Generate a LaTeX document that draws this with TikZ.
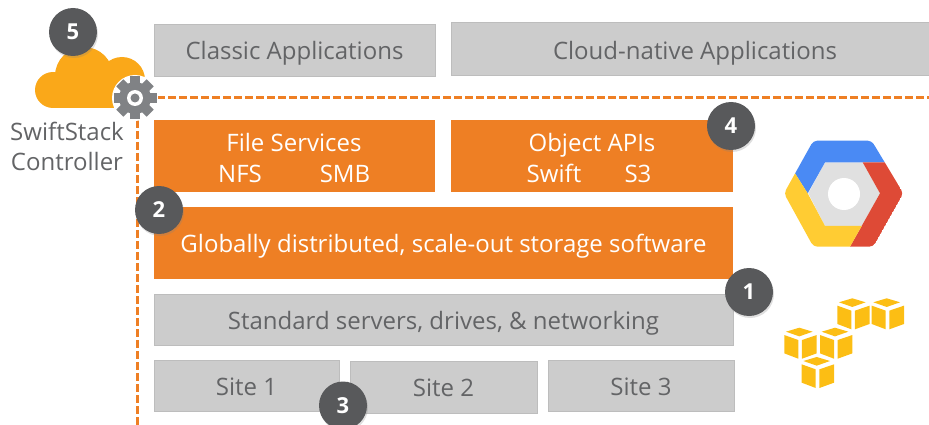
\documentclass[tikz,border=0pt]{standalone}
\usepackage{fontspec}
\setmainfont{Open Sans}
\usetikzlibrary{positioning,shadows}
\definecolor{boxgray}{HTML}{CCCCCC}
\definecolor{boxedge}{HTML}{BDBDBD}
\definecolor{txtgray}{HTML}{636466}
\definecolor{orng}{HTML}{EE7F24}
\definecolor{numgray}{HTML}{58595B}
\definecolor{cloudy}{HTML}{FAA819}
\definecolor{geargray}{HTML}{808285}
\definecolor{gblue}{HTML}{4A8AF4}
\definecolor{gred}{HTML}{DE4A36}
\definecolor{gyellow}{HTML}{FFCC33}
\definecolor{ggray}{HTML}{E0E0E0}
\definecolor{awsy}{HTML}{FCBE14}
\tikzset{
  txt/.style={inner sep=0pt,font=\fontsize{24}{28}\selectfont},
  graybox/.style={txt,rectangle,fill=boxgray,draw=boxedge,line width=.5pt,text=txtgray,anchor=center,text height=19pt,text depth=0pt},
  orangebox/.style={txt,rectangle,fill=orng,text=white,anchor=center,text height=19pt,text depth=0pt},
  onorange/.style={txt,text=white,text height=17pt,text depth=0pt},
  num/.style={circle,fill=numgray,text=white,minimum size=48pt,inner sep=0pt,
    font=\fontsize{22}{24}\selectfont\bfseries,
    drop shadow={shadow xshift=1pt,shadow yshift=-2pt,opacity=.25}},
  awscube/.pic={
    \fill[awsy] (-40,0) -- (0,-12) -- (40,0) -- (0,14) -- cycle;
    \fill[awsy] (-45,10) -- (-3,25) -- (-3,81) -- (-45,65) -- cycle;
    \fill[awsy] (52,10) -- (8,25) -- (8,81) -- (52,65) -- cycle;
  }
}
\begin{document}
\begin{tikzpicture}[x=1pt,y=-1pt]
  \useasboundingbox (0,0) rectangle (929,425);

  \node[graybox,minimum width=281pt,minimum height=52pt] (classic) at (294.5,50) {Classic Applications};
  \node[graybox,minimum width=488pt,minimum height=53pt,text height=22pt] (native) at (695,48.5) {Cloud-native Applications};

  \node[orangebox,minimum width=281pt,minimum height=72pt] (file) at (294.5,156) {};
  \node[orangebox,minimum width=282pt,minimum height=72pt] (object) at (592,156) {};
  \node[onorange] (filet) at (294,143) {File Services};
  \node[onorange] (nfs) at (240,174) {NFS};
  \node[onorange] (smb) at (345,174) {SMB};
  \node[onorange] (objt) at (592,143) {Object APIs};
  \node[onorange] (swift) at (554,174) {Swift};
  \node[onorange] (s3) at (638,174) {S3};

  \node[orangebox,minimum width=579pt,minimum height=72pt] (sw) at (443.5,243) {Globally distributed, scale-out storage software};
  \node[graybox,minimum width=579pt,minimum height=51pt] (servers) at (443.5,319.5) {Standard servers, drives, \& networking};
  \node[graybox,minimum width=185pt,minimum height=51pt] (site1) at (246.5,385.5) {Site 1};
  \node[graybox,minimum width=187pt,minimum height=52pt] (site2) at (443.5,387) {Site 2};
  \node[graybox,minimum width=186pt,minimum height=51pt] (site3) at (641,385.5) {Site 3};

  % the controller link
  \coordinate (gear) at (135,98);
  \coordinate (dashe) at (929,98);
  \coordinate (dashs) at (137,425);
  \draw[orng,line width=3pt,dash pattern=on 8pt off 3pt] (gear) -- (dashe);
  \draw[orng,line width=3pt,dash pattern=on 8pt off 3pt] (137,98) -- (dashs);

  % cloud
  \fill[cloudy] (53,90) circle (18);
  \fill[cloudy] (84,76) circle (29);
  \fill[cloudy] (122,80) circle (23);
  \fill[cloudy] (53,80) rectangle (122,108);

  % gear
  \fill[white] (gear) circle (23);
  \foreach \a in {0,45,...,315}
    \fill[geargray,rotate around={\a:(gear)}] (130,76.5) rectangle (140,90);
  \fill[geargray] (gear) circle (16);
  \fill[white] (gear) circle (8);
  \fill[geargray] (gear) circle (4.5);

  \node[txt,text=txtgray,align=center] (ctrl) at (67,146) {SwiftStack\\[2pt]Controller};

  % google hexagon
  \begin{scope}[shift={(770,130)},scale=1/3]
    \clip[rounded corners=4pt] (130,32) -- (305,32) -- (400,190) -- (310,350) -- (130,350) -- (42,190) -- cycle;
    \fill[ggray] (115,190) -- (165,97) -- (278,97) -- (330,190) -- (275,288) -- (165,288) -- cycle;
    \fill[white] (222,192) circle (48);
    \fill[gblue] (130,32) -- (305,32) -- (348,97) -- (165,97) -- (113,190) -- (75,130) -- cycle;
    \fill[gred] (348,97) -- (278,97) -- (330,190) -- (275,288) -- (240,350) -- (310,350) -- (400,190) -- cycle;
    \fill[gyellow] (75,130) -- (113,190) -- (165,288) -- (275,288) -- (240,350) -- (130,350) -- (42,190) -- cycle;
  \end{scope}

  % aws cubes
  \pic[scale=1/3] at (886.7,302.3) {awscube};
  \pic[scale=1/3] at (852.3,302.3) {awscube};
  \pic[scale=1/3] at (799.3,331.7) {awscube};
  \pic[scale=1/3] at (835,331.7) {awscube};
  \pic[scale=1/3] at (816.7,361) {awscube};

  \node[num] (n5) at (73,32) {5};
  \node[num] (n2) at (159,210) {2};
  \node[num] (n4) at (731,126) {4};
  \node[num] (n1) at (749,292) {1};
  \node[num] (n3) at (343,405.5) {3};
\end{tikzpicture}
\end{document}
